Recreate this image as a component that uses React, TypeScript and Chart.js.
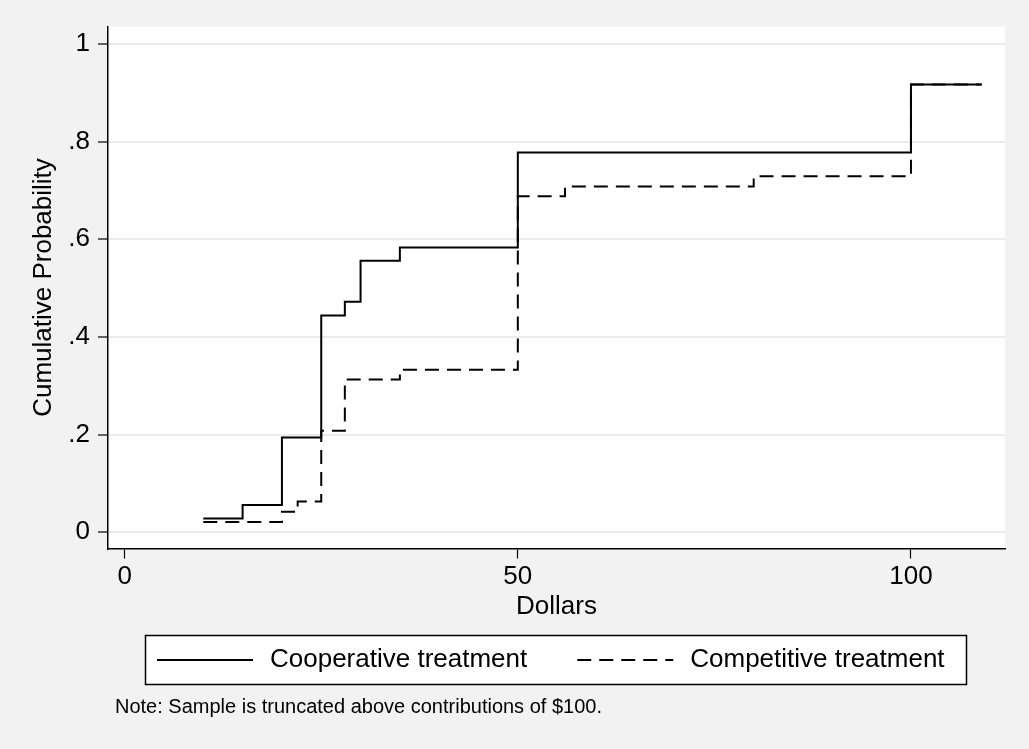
import React, { useEffect, useRef } from 'react';
import { Chart, registerables } from 'chart.js';

Chart.register(...registerables);

// ---- data ----
const coopDollars = [10, 15, 20, 25, 28, 30, 35, 50, 100, 109];
const coopProb = [0.028, 0.056, 0.194, 0.444, 0.472, 0.556, 0.583, 0.778, 0.917, 0.917];

const compDollars = [10, 20, 22, 25, 28, 35, 50, 56, 80, 100, 109];
const compProb = [0.021, 0.042, 0.063, 0.208, 0.313, 0.333, 0.688, 0.708, 0.729, 0.917, 0.917];

const seriesNames = ['Cooperative treatment', 'Competitive treatment'];
const xTickValues = [0, 50, 100];
const xTickLabels = ['0', '50', '100'];
const yTickValues = [0, 0.2, 0.4, 0.6, 0.8, 1];
const yTickLabels = ['0', '.2', '.4', '.6', '.8', '1'];
const xTitle = 'Dollars';
const yTitle = 'Cumulative Probability';
const noteText = 'Note: Sample is truncated above contributions of $100.';

const FONT = "'Liberation Sans', Arial, Helvetica, sans-serif";
const DASH = [14, 8];

const bgPlugin = {
  id: 'stataBackground',
  beforeDraw(chart: any) {
    const { ctx, width, height, chartArea } = chart;
    ctx.save();
    ctx.fillStyle = '#f2f2f2';
    ctx.fillRect(0, 0, width, height);
    ctx.fillStyle = '#ffffff';
    ctx.fillRect(chartArea.left, chartArea.top, chartArea.right - chartArea.left, chartArea.bottom - chartArea.top);
    ctx.restore();
  },
};

const legendNotePlugin = {
  id: 'stataLegendNote',
  afterDraw(chart: any) {
    const { ctx } = chart;
    const ds = chart.data.datasets;
    ctx.save();
    // legend box
    const boxL = 145.5, boxT = 635.5, boxW = 821, boxH = 49;
    ctx.fillStyle = '#ffffff';
    ctx.fillRect(boxL, boxT, boxW, boxH);
    ctx.strokeStyle = '#000';
    ctx.lineWidth = 1.5;
    ctx.setLineDash([]);
    ctx.strokeRect(boxL, boxT, boxW, boxH);

    const midY = 660;
    ctx.font = `26px ${FONT}`;
    ctx.textBaseline = 'middle';
    ctx.textAlign = 'left';
    ctx.fillStyle = '#000';
    let x = 157;
    const sampleW = 96;
    ds.forEach((d: any, i: number) => {
      ctx.beginPath();
      ctx.lineWidth = 2;
      ctx.strokeStyle = '#000';
      ctx.setLineDash(d.borderDash || []);
      ctx.moveTo(x, midY);
      ctx.lineTo(x + sampleW, midY);
      ctx.stroke();
      ctx.setLineDash([]);
      x += sampleW + 17;
      ctx.fillText(d.label, x, midY);
      x += ctx.measureText(d.label).width + 50;
    });

    // note
    ctx.font = `20px ${FONT}`;
    ctx.fillText(noteText, 115, 707);
    ctx.restore();
  },
};

export default function App() {
  const canvasRef = useRef<HTMLCanvasElement | null>(null);

  useEffect(() => {
    if (!canvasRef.current) return;
    const chart = new Chart(canvasRef.current, {
      type: 'line',
      data: {
        datasets: [
          {
            label: seriesNames[0],
            data: coopDollars.map((x, i) => ({ x, y: coopProb[i] })),
            borderColor: '#000',
            borderWidth: 2,
            pointRadius: 0,
            stepped: 'before',
            fill: false,
            borderDash: [],
          },
          {
            label: seriesNames[1],
            data: compDollars.map((x, i) => ({ x, y: compProb[i] })),
            borderColor: '#000',
            borderWidth: 2,
            pointRadius: 0,
            stepped: 'before',
            fill: false,
            borderDash: DASH,
          },
        ],
      },
      options: {
        animation: false,
        responsive: false,
        maintainAspectRatio: false,
        devicePixelRatio: 1,
        layout: { padding: { top: 26.5, right: 24, bottom: 124.5, left: 0 } },
        plugins: {
          legend: { display: false },
          tooltip: { enabled: false },
          title: { display: false },
        },
        scales: {
          x: {
            type: 'linear',
            min: -2.12,
            max: 111.96,
            afterBuildTicks: (s: any) => {
              s.ticks = xTickValues.map((v) => ({ value: v }));
            },
            afterFit: (s: any) => {
              s.height = 76;
            },
            grid: {
              display: true,
              drawOnChartArea: false,
              drawTicks: true,
              tickLength: 10,
              tickColor: '#000',
              tickWidth: 1.2,
            },
            border: { display: true, color: '#000', width: 1.5 },
            ticks: {
              color: '#000',
              font: { family: FONT, size: 26, lineHeight: 1.2 },
              padding: 3,
              maxRotation: 0,
              autoSkip: false,
              callback: (v: any) => {
                const i = xTickValues.indexOf(Number(v));
                return i >= 0 ? xTickLabels[i] : '';
              },
            },
            title: {
              display: true,
              text: xTitle,
              color: '#000',
              font: { family: FONT, size: 26, lineHeight: 1.2 },
              padding: { top: 0, bottom: 2 },
            },
          },
          y: {
            type: 'linear',
            min: -0.0332,
            max: 1.0358,
            afterBuildTicks: (s: any) => {
              s.ticks = yTickValues.map((v) => ({ value: v }));
            },
            afterFit: (s: any) => {
              s.width = 108;
            },
            grid: {
              display: true,
              drawOnChartArea: true,
              drawTicks: true,
              color: '#ebebeb',
              lineWidth: 2,
              tickLength: 10,
              tickColor: '#000',
              tickWidth: 1.2,
            },
            border: { display: true, color: '#000', width: 1.5 },
            ticks: {
              color: '#000',
              font: { family: FONT, size: 26, lineHeight: 1.2 },
              padding: 8,
              autoSkip: false,
              callback: (v: any) => {
                const i = yTickValues.findIndex((t) => Math.abs(t - Number(v)) < 1e-9);
                return i >= 0 ? yTickLabels[i] : '';
              },
            },
            title: {
              display: true,
              text: yTitle,
              color: '#000',
              font: { family: FONT, size: 26, lineHeight: 1.2 },
              padding: { top: 28, bottom: 0 },
            },
          },
        },
      } as any,
      plugins: [bgPlugin, legendNotePlugin],
    });
    return () => chart.destroy();
  }, []);

  return (
    <div style={{ position: 'fixed', left: 0, top: 0, width: 1029, height: 749 }}>
      <canvas ref={canvasRef} width={1029} height={749} style={{ width: 1029, height: 749, display: 'block' }} />
    </div>
  );
}
